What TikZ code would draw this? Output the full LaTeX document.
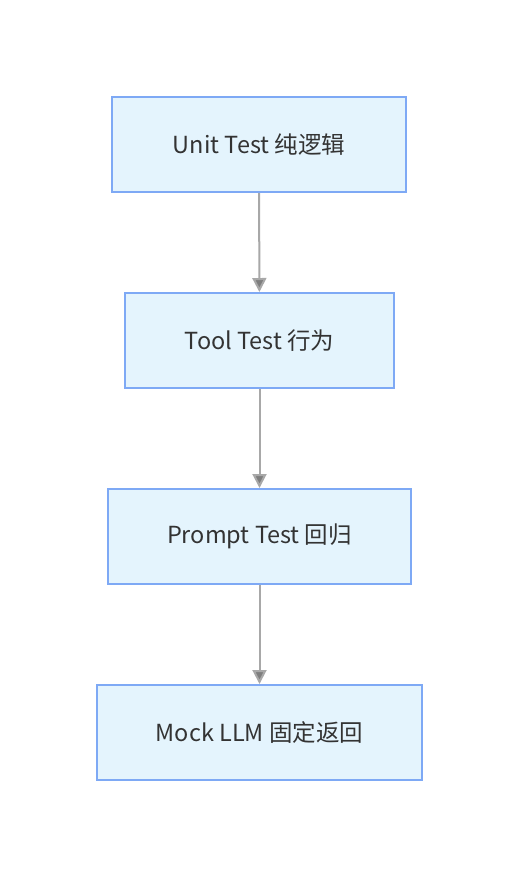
\documentclass[tikz,border=0pt]{standalone}
\usepackage{fontspec}
\setmainfont{Noto Sans CJK SC}
\usetikzlibrary{arrows.meta}
\definecolor{boxfill}{HTML}{E4F4FD}
\definecolor{boxline}{HTML}{7EA9F5}
\definecolor{txt}{HTML}{333333}
\definecolor{arr}{HTML}{A8A8A8}
\begin{document}
\begin{tikzpicture}[x=1pt,y=-1pt,
  stepbox/.style={draw=boxline,fill=boxfill,line width=2pt,inner sep=0pt,text=txt,font=\fontsize{23.5}{27}\selectfont,anchor=north west},
  conn/.style={draw=arr,line width=2pt,-{Triangle[width=14pt,length=14pt,fill=arr!75!black]}}]
\useasboundingbox (0,0) rectangle (517,876);
\node[stepbox,minimum width=294pt,minimum height=95pt] (a) at (111,96) {Unit Test 纯逻辑};
\node[stepbox,minimum width=269pt,minimum height=95pt] (b) at (124,292) {Tool Test 行为};
\node[stepbox,minimum width=303pt,minimum height=95pt] (c) at (107,488) {Prompt Test 回归};
\node[stepbox,minimum width=325pt,minimum height=95pt] (d) at (96,684) {Mock LLM 固定返回};
\draw[conn] (a) -- (b);
\draw[conn] (b) -- (c);
\draw[conn] (c) -- (d);
\end{tikzpicture}
\end{document}
